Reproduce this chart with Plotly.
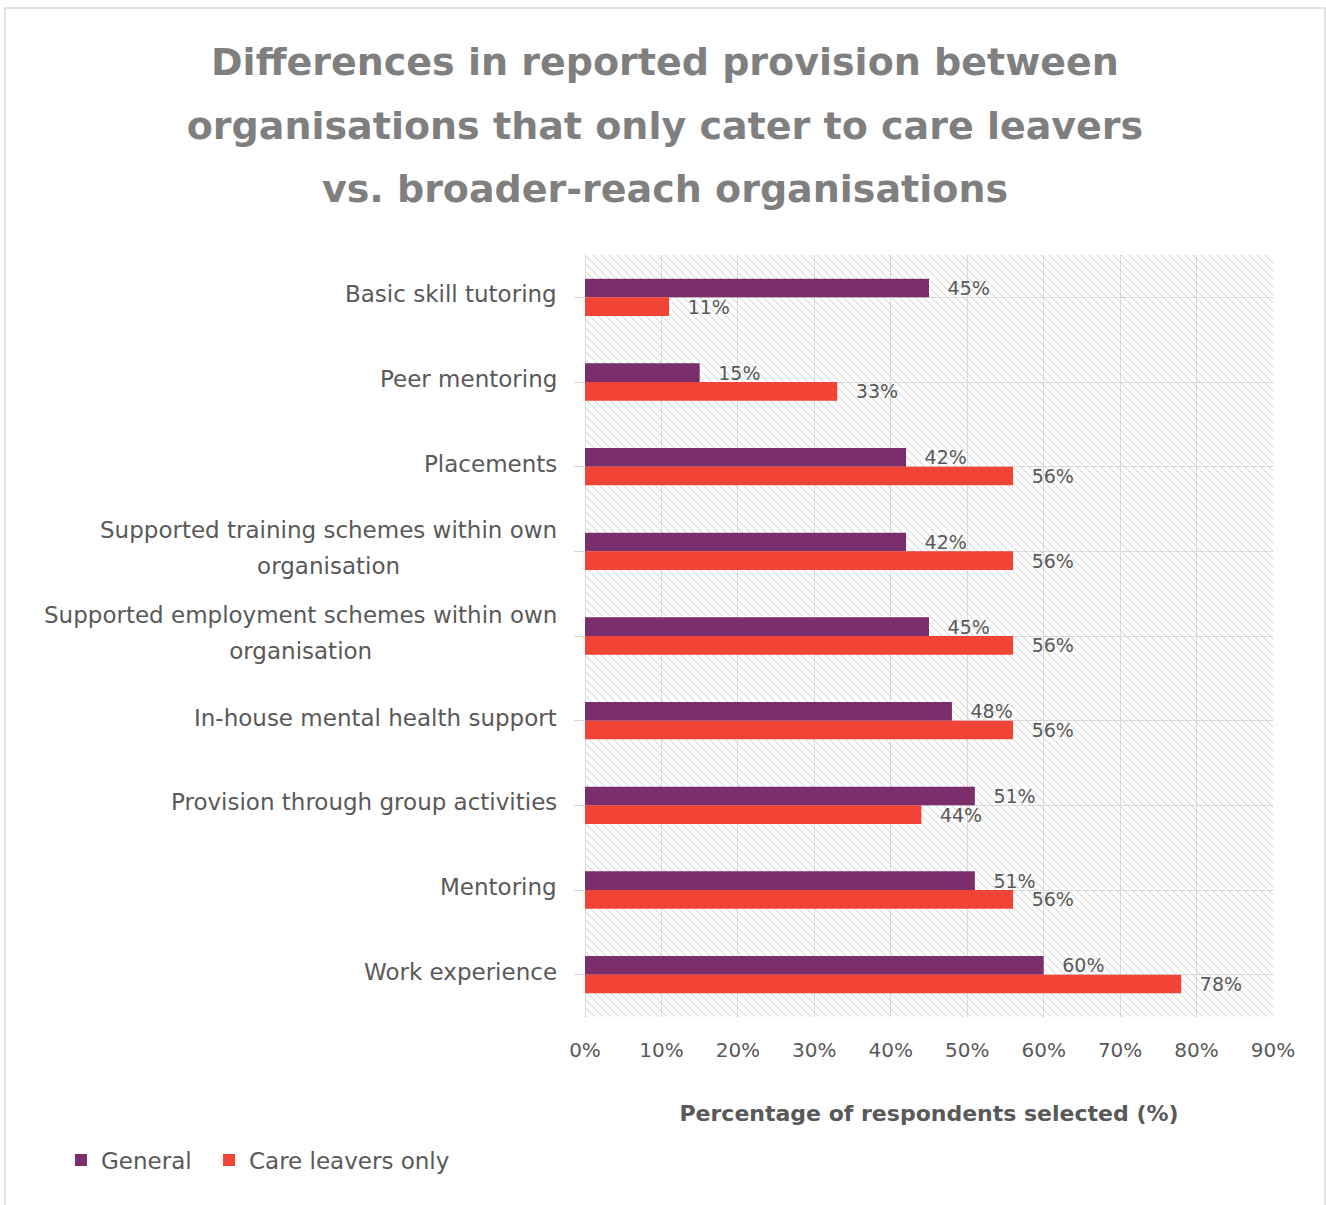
import base64
import plotly.graph_objects as go

# ---------------- data ----------------
categories = [
    "Basic skill tutoring",
    "Peer mentoring",
    "Placements",
    "Supported training schemes within own<br>organisation",
    "Supported employment schemes within own<br>organisation",
    "In-house mental health support",
    "Provision through group activities",
    "Mentoring",
    "Work experience",
]
general = [45, 15, 42, 42, 45, 48, 51, 51, 60]
care_leavers = [11, 33, 56, 56, 56, 56, 44, 56, 78]
series_names = ["General", "Care leavers only"]
x_ticks = [0, 10, 20, 30, 40, 50, 60, 70, 80, 90]
x_tick_labels = ["0%", "10%", "20%", "30%", "40%", "50%", "60%", "70%", "80%", "90%"]

title_lines = [
    "Differences in reported provision between",
    "organisations that only cater to care leavers",
    "vs. broader-reach organisations",
]
x_title = "Percentage of respondents selected (%)"

# ---------------- styling ----------------
W, H = 1326, 1205
L, R, T, B = 585, 1273, 255, 1017
PURPLE = "#7A2E6C"
RED = "#F14436"
GRID = "#D9D9D9"
TEXT = "#595959"
FONT = "DejaVu Sans"

pw, ph = R - L, B - T


def px_x(px):
    return (px - L) / pw


def px_y(py):
    return (B - py) / ph


# hatched plot-area background
svg = (
    f"<svg xmlns='http://www.w3.org/2000/svg' width='{pw}' height='{ph}'>"
    "<defs><pattern id='p' width='8' height='8' patternUnits='userSpaceOnUse'>"
    "<path d='M-2,-2 L10,10 M-2,6 L2,10 M6,-2 L10,2' stroke='#D0D0D0' stroke-width='1.1' stroke-dasharray='2.2 0.8'/>"
    "</pattern></defs><rect width='100%' height='100%' fill='url(#p)'/></svg>"
)
bg_src = "data:image/svg+xml;base64," + base64.b64encode(svg.encode()).decode()

fig = go.Figure()
for name, vals, col, leg in [(series_names[0], general, PURPLE, "legend"),
                             (series_names[1], care_leavers, RED, "legend2")]:
    fig.add_trace(
        go.Bar(
            name=name,
            y=list(range(len(categories))),
            x=vals,
            orientation="h",
            marker=dict(color=col, line=dict(width=0)),
            text=[f"{v}%" for v in vals],
            texttemplate="\u2002\u00a0%{text}",
            textposition="outside",
            textfont=dict(family=FONT, size=19, color=TEXT),
            constraintext="none",
            cliponaxis=False,
            legend=leg,
            showlegend=True,
            hovertemplate="%{x}%<extra>" + name + "</extra>",
        )
    )

# category labels (centred multi-line like the original)
LABEL_BASE = 28
for i, c in enumerate(categories):
    txt = "<br>".join(f"<span style='font-size:23px'>{ln}</span>" for ln in c.split("<br>"))
    fig.add_annotation(
        x=0, xref="paper", y=i, yref="y",
        text=txt, showarrow=False, xanchor="right", yanchor="middle",
        align="center", xshift=-26, yshift=3,
        font=dict(family=FONT, size=LABEL_BASE, color=TEXT),
    )

title_txt = "<br>".join(f"<span style='font-size:38px'>{ln}</span>" for ln in title_lines)

legend_common = dict(
    orientation="h", xref="container", yref="container",
    y=1 - 1160 / H, xanchor="left", yanchor="middle",
    font=dict(family=FONT, size=23, color=TEXT),
    bgcolor="rgba(0,0,0,0)",
    itemclick=False, itemdoubleclick=False,
)

fig.update_layout(
    width=W, height=H,
    margin=dict(l=L, r=W - R, t=T, b=H - B),
    paper_bgcolor="white",
    plot_bgcolor="white",
    showlegend=True,
    barmode="group",
    bargap=0.56,
    bargroupgap=0,
    font=dict(family=FONT, color=TEXT),
    title=dict(
        text=title_txt,
        x=0.5015, xref="container", xanchor="center",
        y=1 - 75 / H, yref="container", yanchor="top",
        font=dict(family=FONT, size=49, color="#7F7F7F", weight=700),
    ),
    xaxis=dict(
        range=[0, 90], tickvals=x_ticks, ticktext=x_tick_labels,
        showgrid=True, gridcolor=GRID, gridwidth=1.3,
        zeroline=True, zerolinecolor=GRID, zerolinewidth=1.3,
        showline=False, ticks="", ticklabelstandoff=19,
        tickfont=dict(family=FONT, size=20, color=TEXT),
        title=dict(text=x_title, standoff=44,
                   font=dict(family=FONT, size=22, color=TEXT, weight=700)),
        fixedrange=True,
    ),
    yaxis=dict(
        range=[len(categories) - 0.5, -0.5],
        tickvals=list(range(len(categories))), showticklabels=False,
        tickson="boundaries", ticks="outside", ticklen=10, tickcolor=GRID, tickwidth=1.3,
        showgrid=True, gridcolor=GRID, gridwidth=1.3,
        zeroline=False, showline=False, fixedrange=True,
    ),
    legend=dict(x=61 / W, **legend_common),
    legend2=dict(x=209 / W, **legend_common),
    images=[dict(source=bg_src, xref="paper", yref="paper", x=0, y=1,
                 sizex=1, sizey=1, xanchor="left", yanchor="top",
                 sizing="stretch", layer="below")],
    shapes=[dict(type="rect", xref="paper", yref="paper",
                 x0=px_x(5), x1=px_x(1325), y0=px_y(1215), y1=px_y(8),
                 line=dict(color=GRID, width=1.5), fillcolor="rgba(0,0,0,0)", layer="below")],
)

fig.write_html(
    "out.html",
    config={"displayModeBar": False},
    post_script="document.body.style.margin='0';document.body.style.overflow='hidden';",
)
